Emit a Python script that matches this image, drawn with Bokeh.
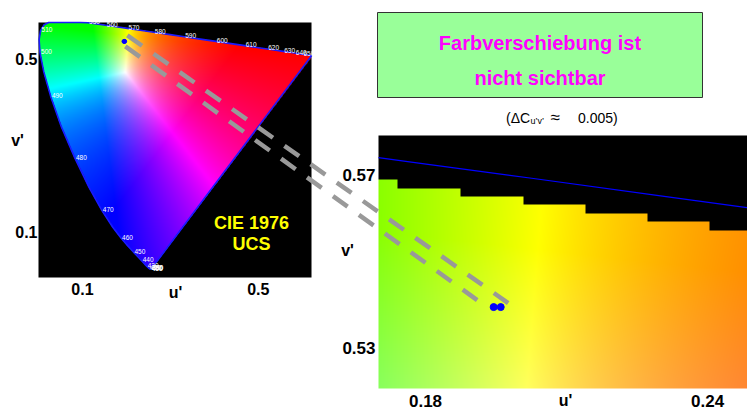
import numpy as np
from bokeh.plotting import figure
from bokeh.models import Range1d
from bokeh.core.properties import value
from bokeh.embed import file_html
from bokeh.resources import INLINE

# ---------------- data ----------------
# CIE 1931 spectral locus (chromaticity x, y), converted to u'v' below
LOCUS_NM = [380, 385, 390, 395, 400, 405, 410, 415, 420, 425, 430, 435, 440, 445, 450,
            455, 460, 465, 470, 475, 480, 485, 490, 495, 500, 505, 510, 515, 520, 525,
            530, 535, 540, 545, 550, 555, 560, 565, 570, 575, 580, 585, 590, 595, 600,
            605, 610, 615, 620, 625, 630, 635, 640, 645, 650, 655, 660, 665, 670, 680,
            690, 700]
LOCUS_X = [0.1741, 0.1740, 0.1738, 0.1736, 0.1733, 0.1730, 0.1726, 0.1721, 0.1714, 0.1703,
           0.1689, 0.1669, 0.1644, 0.1611, 0.1566, 0.1510, 0.1440, 0.1355, 0.1241, 0.1096,
           0.0913, 0.0687, 0.0454, 0.0235, 0.0082, 0.0039, 0.0139, 0.0389, 0.0743, 0.1142,
           0.1547, 0.1929, 0.2296, 0.2658, 0.3016, 0.3373, 0.3731, 0.4087, 0.4441, 0.4788,
           0.5125, 0.5448, 0.5752, 0.6029, 0.6270, 0.6482, 0.6658, 0.6801, 0.6915, 0.7006,
           0.7079, 0.7140, 0.7190, 0.7230, 0.7260, 0.7283, 0.7300, 0.7311, 0.7320, 0.7334,
           0.7344, 0.7347]
LOCUS_Y = [0.0050, 0.0050, 0.0049, 0.0049, 0.0048, 0.0048, 0.0048, 0.0048, 0.0051, 0.0058,
           0.0069, 0.0086, 0.0109, 0.0138, 0.0177, 0.0227, 0.0297, 0.0399, 0.0578, 0.0868,
           0.1327, 0.2007, 0.2950, 0.4127, 0.5384, 0.6548, 0.7502, 0.8120, 0.8338, 0.8262,
           0.8059, 0.7816, 0.7543, 0.7243, 0.6923, 0.6589, 0.6245, 0.5896, 0.5547, 0.5202,
           0.4866, 0.4544, 0.4242, 0.3965, 0.3725, 0.3514, 0.3340, 0.3197, 0.3083, 0.2993,
           0.2920, 0.2859, 0.2809, 0.2770, 0.2740, 0.2717, 0.2700, 0.2689, 0.2680, 0.2666,
           0.2656, 0.2653]
LABEL_NM = [380, 390, 400, 410, 420, 430, 440, 450, 460, 470, 480, 490, 500, 510,
            550, 560, 570, 580, 590, 600, 610, 620, 630, 640, 650]

SHIFT_U = [0.1945, 0.1960]          # colour point before / after the shift
SHIFT_V = [0.5394, 0.5394]

LEFT_U_TICKS = [0.1, 0.5]
LEFT_V_TICKS = [0.1, 0.5]
RIGHT_U_TICKS = [0.18, 0.24]
RIGHT_V_TICKS = [0.53, 0.57]
LEFT_U = (0.0, 0.621)
LEFT_V = (-0.0035, 0.5828)
RIGHT_U = (0.170, 0.2485)
RIGHT_V = (0.52047, 0.5793)

TITLE_LINES = ["Farbverschiebung ist", "nicht sichtbar"]
DIAGRAM_LINES = ["CIE 1976", "UCS"]

# pixelation of the rendered gamut in the magnified view
ROW_H = 0.00197
ROW_REF = 0.56906
ROW_GAP = 0.0045

# ---------------- layout (picture pixels) ----------------
W, H = 747, 410
LEFT_BOX = (38, 311, 277, 22)      # x0, x1, y_bottom, y_top
RIGHT_BOX = (378, 747, 388, 135)
FONT = value("Liberation Sans")

lx = np.array(LOCUS_X)
ly = np.array(LOCUS_Y)
den = -2 * lx + 12 * ly + 3
LU = 4 * lx / den
LV = 9 * ly / den
NM = np.array(LOCUS_NM)


def full_range(d0, d1, p0, p1, q0, q1):
    k = (d1 - d0) / (p1 - p0)
    return Range1d(start=d0 + (q0 - p0) * k, end=d0 + (q1 - p0) * k)


def to_page(u, v, U, V, box):
    x0, x1, yb, yt = box
    return (x0 + (u - U[0]) / (U[1] - U[0]) * (x1 - x0),
            yb + (v - V[0]) / (V[1] - V[0]) * (yt - yb))


M = np.array([[3.2406, -1.5372, -0.4986],
              [-0.9689, 1.8758, 0.0415],
              [0.0557, -0.2040, 1.0570]])


def uv_rgb(U, V, gamma=1.12):
    d = 6 * U - 16 * V + 12
    x = 9 * U / d
    y = np.maximum(4 * V / d, 1e-4)
    XYZ = np.stack([x / y, np.ones_like(x), (1 - x - y) / y], -1)
    rgb = np.clip(XYZ @ M.T, 0, None)
    rgb = rgb / np.maximum(rgb.max(-1, keepdims=True), 1e-9)
    rgb = rgb ** (1 / gamma)
    return np.round(rgb * 255).astype(np.uint8)


def inside(px, py, polx, poly):
    res = np.zeros(px.shape, bool)
    n = len(polx)
    for i in range(n):
        x1, y1 = polx[i], poly[i]
        x2, y2 = polx[(i + 1) % n], poly[(i + 1) % n]
        dy = (y2 - y1) if y2 != y1 else 1e-12
        cond = (y1 > py) != (y2 > py)
        xint = (x2 - x1) * (py - y1) / dy + x1
        res ^= cond & (px < xint)
    return res


def rgba_image(rgb, mask):
    ny, nx = mask.shape
    img = np.empty((ny, nx), dtype=np.uint32)
    view = img.view(dtype=np.uint8).reshape((ny, nx, 4))
    view[:, :, :3] = np.where(mask[..., None], rgb, 0)
    view[:, :, 3] = 255
    return img


p = figure(width=W, height=H, x_range=Range1d(0, W), y_range=Range1d(H, 0),
           output_backend="svg", toolbar_location=None, title=None,
           x_axis_location=None, y_axis_location=None, min_border=0)
p.grid.visible = False
p.outline_line_color = None
p.background_fill_color = "white"
p.border_fill_color = "white"

p.extra_x_ranges = {
    "lu": full_range(*LEFT_U, LEFT_BOX[0], LEFT_BOX[1], 0, W),
    "ru": full_range(*RIGHT_U, RIGHT_BOX[0], RIGHT_BOX[1], 0, W),
}
p.extra_y_ranges = {
    "lv": full_range(*LEFT_V, LEFT_BOX[2], LEFT_BOX[3], H, 0),
    "rv": full_range(*RIGHT_V, RIGHT_BOX[2], RIGHT_BOX[3], H, 0),
}


def txt(x, y, s, size, color="black", bold=True, align="center", baseline="middle",
        xr="default", yr="default", xo=0, yo=0):
    p.text(x=x, y=y, text=s, text_font=FONT, text_font_size=f"{size}px",
           text_font_style="bold" if bold else "normal", text_color=color,
           text_align=align, text_baseline=baseline, x_offset=xo, y_offset=yo,
           x_range_name=xr, y_range_name=yr)


# ---------------- left: full chromaticity diagram ----------------
nxl = int(round(LEFT_BOX[1] - LEFT_BOX[0]))
nyl = int(round(LEFT_BOX[2] - LEFT_BOX[3]))
du = (LEFT_U[1] - LEFT_U[0]) / nxl
dv = (LEFT_V[1] - LEFT_V[0]) / nyl
UU, VV = np.meshgrid(LEFT_U[0] + (np.arange(nxl) + 0.5) * du,
                     LEFT_V[0] + (np.arange(nyl) + 0.5) * dv)
mask_l = inside(UU, VV, LU, LV)
p.image_rgba(image=[rgba_image(uv_rgb(UU, VV), mask_l)], x=LEFT_U[0], y=LEFT_V[0],
             dw=LEFT_U[1] - LEFT_U[0], dh=LEFT_V[1] - LEFT_V[0],
             x_range_name="lu", y_range_name="lv")

ring_u = np.minimum(np.append(LU, LU[0]), LEFT_U[1])
ring_v = np.minimum(np.append(LV, LV[0]), LEFT_V[1])
p.line(ring_u, ring_v, line_color="#1a1aff", line_width=1.6,
       x_range_name="lu", y_range_name="lv")

idx = [LOCUS_NM.index(n) for n in LABEL_NM]
txt(list(LU[idx]), list(LV[idx]), [str(n) for n in LABEL_NM], 6.5, color="white",
    bold=False, align="left", xr="lu", yr="lv", xo=1, yo=-1)

p.scatter(SHIFT_U, SHIFT_V, size=4, color="#0000ff", x_range_name="lu", y_range_name="lv")

txt([LEFT_U[0]] * 2, LEFT_V_TICKS, [f"{t:g}" for t in LEFT_V_TICKS], 16,
    align="right", xr="lu", yr="lv", xo=-1)
txt(LEFT_U_TICKS, [LEFT_V[0]] * 2, [f"{t:g}" for t in LEFT_U_TICKS], 16,
    xr="lu", yr="lv", yo=11)
txt([17], [140], ["v'"], 16)
txt([175], [292], ["u'"], 16)
txt([251, 251], [222, 243], DIAGRAM_LINES, 18, color="#ffff00")

# ---------------- right: magnified region ----------------
nxr = int(round(RIGHT_BOX[1] - RIGHT_BOX[0]))
nyr = int(round(RIGHT_BOX[2] - RIGHT_BOX[3]))
du = (RIGHT_U[1] - RIGHT_U[0]) / nxr
dv = (RIGHT_V[1] - RIGHT_V[0]) / nyr
UR, VR = np.meshgrid(RIGHT_U[0] + (np.arange(nxr) + 0.5) * du,
                     RIGHT_V[0] + (np.arange(nyr) + 0.5) * dv)
top = NM >= 530
locus_at = np.interp(UR, LU[top], LV[top])
cell_top = ROW_REF + np.ceil((VR - ROW_REF) / ROW_H) * ROW_H
mask_r = (locus_at - cell_top) >= ROW_GAP
p.image_rgba(image=[rgba_image(uv_rgb(UR, VR), mask_r)], x=RIGHT_U[0], y=RIGHT_V[0],
             dw=RIGHT_U[1] - RIGHT_U[0], dh=RIGHT_V[1] - RIGHT_V[0],
             x_range_name="ru", y_range_name="rv")

# spectral locus, clipped to the magnified window
su, sv = LU[top], LV[top]
keep = (su > RIGHT_U[0]) & (su < RIGHT_U[1])
clip_u = np.concatenate([[RIGHT_U[0]], su[keep], [RIGHT_U[1]]])
clip_v = np.interp(clip_u, su, sv)
p.line(clip_u, clip_v, line_color="#0000ff", line_width=1.2,
       x_range_name="ru", y_range_name="rv")

p.scatter(SHIFT_U, SHIFT_V, size=7, color="#0000ff", x_range_name="ru", y_range_name="rv")

txt([RIGHT_U[0]] * 2, RIGHT_V_TICKS, [f"{t:g}" for t in RIGHT_V_TICKS], 17,
    align="right", xr="ru", yr="rv", xo=-3)
txt(RIGHT_U_TICKS, [RIGHT_V[0]] * 2, [f"{t:g}" for t in RIGHT_U_TICKS], 17,
    xr="ru", yr="rv", yo=12)
txt([347], [250], ["v'"], 16)
txt([565], [400], ["u'"], 16)

# ---------------- zoom connectors ----------------
lcx, lcy = to_page(np.mean(SHIFT_U), np.mean(SHIFT_V), LEFT_U, LEFT_V, LEFT_BOX)
rcx, rcy = to_page(np.mean(SHIFT_U), np.mean(SHIFT_V), RIGHT_U, RIGHT_V, RIGHT_BOX)
for (sx, sy), (ex, ey) in [((3, -6), (11, -4)), ((1, 5), (-20, -7))]:
    p.line([lcx + sx, rcx + ex], [lcy + sy, rcy + ey], line_color="#999999",
           line_width=4.5, line_dash="18 14", line_cap="butt")

# ---------------- annotation box ----------------
p.quad(left=377, right=702, top=12, bottom=97, fill_color="#99ff99",
       line_color="#333333", line_width=1)
txt([539.5, 539.5], [42, 77], TITLE_LINES, 20, color="#ff00ff")
txt([505.5], [117], ["(\u0394C"], 14, bold=False, align="left")
txt([530], [120.5], ["u\u2019v\u2019"], 9, bold=False, align="left")
txt([550], [117], ["\u2248"], 17, bold=False, align="left")
txt([577.5], [117], ["0.005)"], 14, bold=False, align="left")

open("out.html", "w").write(file_html(p, INLINE))
